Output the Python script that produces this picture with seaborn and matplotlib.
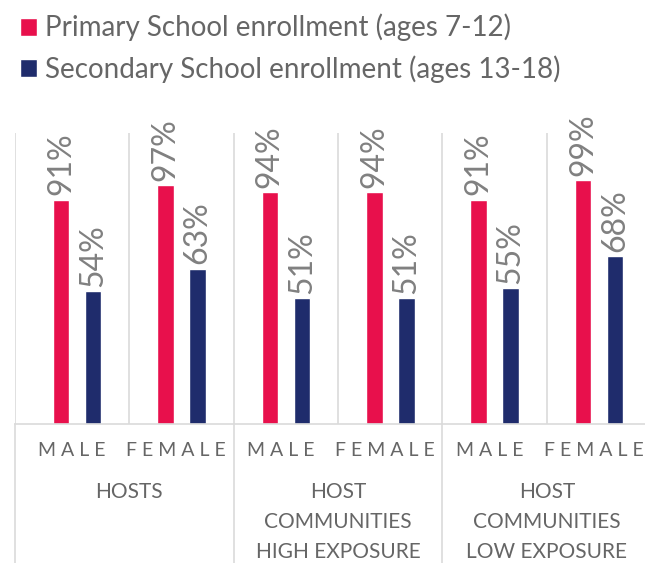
import matplotlib
matplotlib.use("Agg")
import matplotlib.pyplot as plt
import seaborn as sns
import pandas as pd

# ---- data -------------------------------------------------------------
groups = ["HOSTS", "HOSTS", "HIGH", "HIGH", "LOW", "LOW"]
genders = ["MALE", "FEMALE", "MALE", "FEMALE", "MALE", "FEMALE"]
primary = [91, 97, 94, 94, 91, 99]
secondary = [54, 63, 51, 51, 55, 68]
series_names = ["Primary School enrollment (ages 7-12)",
                "Secondary School enrollment (ages 13-18)"]
group_labels = ["HOSTS",
                "HOST\nCOMMUNITIES\nHIGH EXPOSURE",
                "HOST\nCOMMUNITIES\nLOW EXPOSURE"]

PINK = "#E8104C"
NAVY = "#1F2C6C"
TEXT = "#666666"
VALUE = "#808080"
LINE = "#DADADA"

keys = [f"{g}|{s}" for g, s in zip(groups, genders)]
df = pd.DataFrame({
    "key": keys * 2,
    "value": primary + secondary,
    "series": [series_names[0]] * len(keys) + [series_names[1]] * len(keys),
})

sns.set_theme(style="white")
plt.rcParams["font.family"] = ["Lato", "DejaVu Sans"]

fig = plt.figure(figsize=(6.45, 5.63), dpi=100)
ax = fig.add_axes([15 / 645, 139 / 563, 1 - 15 / 645, 291 / 563])

sns.barplot(data=df, x="key", y="value", hue="series", order=keys,
            hue_order=series_names, palette=[PINK, NAVY],
            width=0.613, gap=0.48, saturation=1, ax=ax, legend=True)

ax.set_xlim(-0.594, 5.44)
ax.set_ylim(0, 118)
ax.set_xlabel("")
ax.set_ylabel("")
ax.set_yticks([])
for side in ["top", "right", "left"]:
    ax.spines[side].set_visible(False)
ax.spines["bottom"].set_color(LINE)
ax.spines["bottom"].set_linewidth(1.2)

# value labels rotated above each bar
for cont in ax.containers:
    ax.bar_label(cont, labels=[f"{v:.0f}%" for v in cont.datavalues],
                 rotation=90, padding=3, color=VALUE, fontsize=23)

# cell separators in the plotting area
for xb in [-0.594, 0.5, 1.5, 2.5, 3.5, 4.5]:
    ax.axvline(xb, ymin=0, ymax=1, color=LINE, lw=1.2, zorder=0)
# group separators continue down through the label rows
xt = ax.get_xaxis_transform()
for xb in [-0.594, 1.5, 3.5]:
    ax.plot([xb, xb], [-0.48, 0], transform=xt, color=LINE, lw=1.2,
            clip_on=False)

# letter-spaced gender labels under each pair of bars
ax.set_xticks(range(len(keys)))
ax.set_xticklabels([])
ax.tick_params(axis="x", length=0)
for i, g in enumerate(genders):
    ax.text(i - 0.05, -0.09, " ".join(list(g)), transform=xt, ha="center",
            va="center", fontsize=14, color=TEXT)

# group labels
for i, lab in enumerate(group_labels):
    ax.text(2 * i + 0.5, -0.2, lab, transform=xt, ha="center", va="top",
            fontsize=15, color=TEXT, linespacing=1.62)

sns.move_legend(ax, "upper left", bbox_to_anchor=(6 / 645, 1.0),
                bbox_transform=fig.transFigure, frameon=False, title=None,
                fontsize=20, handlelength=0.6, handleheight=0.6,
                handletextpad=0.3, labelspacing=0.49, borderaxespad=0.1)
for t in ax.get_legend().get_texts():
    t.set_color(TEXT)

fig.savefig("out.png", dpi=100)
